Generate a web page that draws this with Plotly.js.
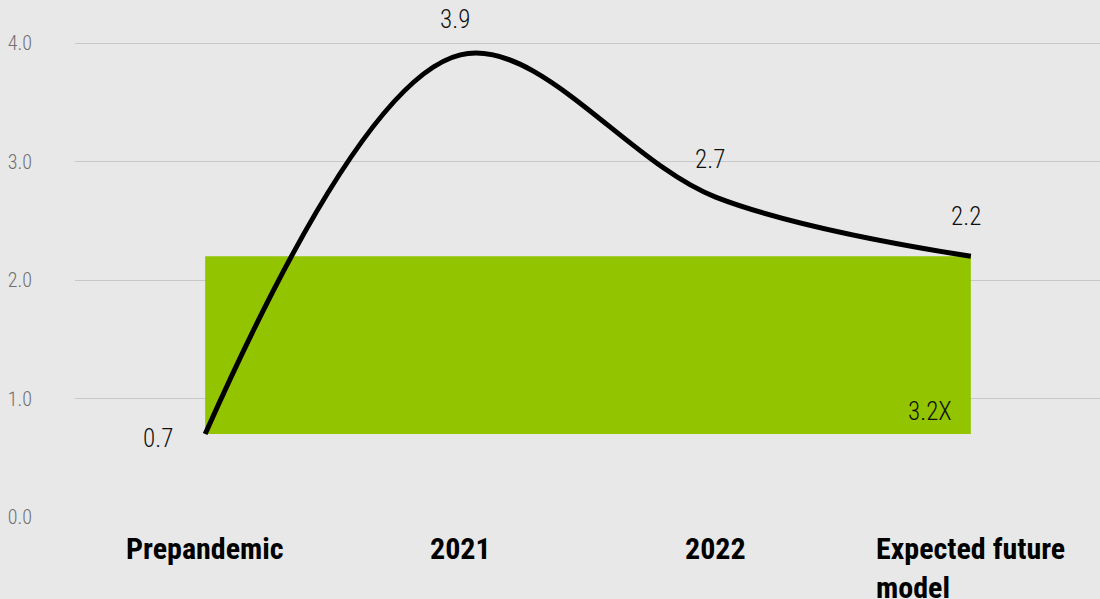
<!DOCTYPE html>
<html>
<head>
<meta charset="utf-8">
<script src="https://cdn.plot.ly/plotly-3.0.1.min.js"></script>
<style>html,body{margin:0;padding:0;background:#e8e8e8;}#chart{width:1100px;height:599px;}</style>
</head>
<body>
<div id="chart"></div>
<script>
const categories = ["Prepandemic", "2021", "2022", "Expected future<br>model"];
const values = [0.7, 3.9, 2.7, 2.2];
const yTicks = [0, 1, 2, 3, 4];
const yTickLabels = ["0.0", "1.0", "2.0", "3.0", "4.0"];
const multipleLabel = "3.2X";

const FONT = '"Roboto Condensed", "Liberation Sans Narrow", "DejaVu Sans Condensed", "Arial Narrow", Roboto, sans-serif';
const xs = categories.map((c, i) => i);
const first = values[0], last = values[values.length - 1];
const lastX = xs[xs.length - 1];

const traces = [
  {
    x: [xs[0], lastX, lastX, xs[0], xs[0]],
    y: [first, first, last, last, first],
    mode: 'lines', fill: 'toself', fillcolor: '#92c400',
    line: {width: 0, color: 'rgba(0,0,0,0)'}, hoverinfo: 'skip'
  },
  {
    x: xs, y: values, mode: 'lines',
    line: {color: '#000', width: 5, shape: 'spline', smoothing: 1},
    hoverinfo: 'skip'
  }
];

const labelShift = [
  {xanchor: 'right', yanchor: 'middle', xshift: -30, yshift: -4},
  {xanchor: 'center', yanchor: 'bottom', xshift: -5, yshift: 19},
  {xanchor: 'center', yanchor: 'bottom', xshift: -6, yshift: 21},
  {xanchor: 'center', yanchor: 'bottom', xshift: -5, yshift: 23}
];

const annotations = [];
values.forEach((v, i) => {
  annotations.push(Object.assign({
    x: xs[i], y: v, xref: 'x', yref: 'y', text: v.toFixed(1), showarrow: false,
    font: {family: FONT, size: 25, color: '#111', weight: 300}
  }, labelShift[i]));
});
annotations.push({
  x: lastX, y: first, xref: 'x', yref: 'y', text: multipleLabel, showarrow: false,
  xanchor: 'right', yanchor: 'bottom', xshift: -17, yshift: 6,
  font: {family: FONT, size: 25, color: '#111', weight: 300}
});
categories.forEach((c, i) => {
  annotations.push({
    x: xs[i], y: 0, xref: 'x', yref: 'y', text: '<b>' + c + '</b>', showarrow: false,
    xanchor: 'center', yanchor: 'top', yshift: -12, align: 'left',
    font: {family: FONT, size: 30, color: '#000'}
  });
});

const layout = {
  width: 1100, height: 599,
  paper_bgcolor: '#e8e8e8', plot_bgcolor: '#e8e8e8',
  margin: {l: 75, r: 0, t: 0, b: 82},
  showlegend: false,
  xaxis: {range: [-0.51, 3.506], showgrid: false, zeroline: false, showticklabels: false, fixedrange: true},
  yaxis: {
    range: [0, 4.363], tickvals: yTicks, ticktext: yTickLabels,
    showgrid: true, gridcolor: '#c8c8c8', gridwidth: 1, zeroline: false,
    ticks: 'outside', ticklen: 38, tickcolor: 'rgba(0,0,0,0)',
    tickfont: {family: FONT, size: 20, color: '#707070', weight: 300}
  },
  annotations: annotations
};

Plotly.newPlot('chart', traces, layout, {displayModeBar: false, staticPlot: true});
</script>
</body>
</html>
